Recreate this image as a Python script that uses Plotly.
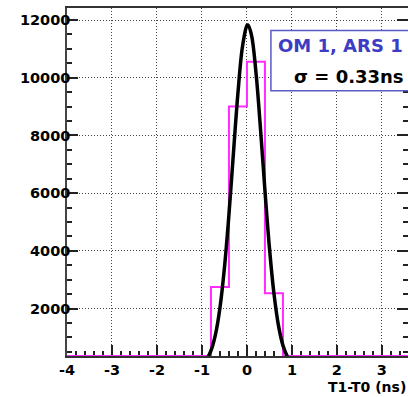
import numpy as np
import plotly.graph_objects as go

# ---- data ----
bin_edges = [-4.0, -3.6, -3.2, -2.8, -2.4, -2.0, -1.6, -1.2, -0.8, -0.4, 0.0,
             0.4, 0.8, 1.2, 1.6, 2.0, 2.4, 2.8, 3.2, 3.6, 4.0]
bin_counts = [0, 0, 0, 0, 0, 0, 0, 0, 2750, 9000, 10550,
              2530, 0, 0, 0, 0, 0, 0, 0, 0]

fit_x = [-1.0, -0.9, -0.8, -0.7, -0.6, -0.5, -0.4, -0.3, -0.2, -0.1, 0.0, 0.02,
         0.1, 0.2, 0.3, 0.4, 0.5, 0.6, 0.7, 0.8, 0.9, 1.0]
fit_y = [120, 243, 540, 1096, 2025, 3419, 5263, 7394, 9472, 11073, 11809, 11830,
         11487, 10195, 8254, 6096, 4107, 2525, 1416, 724, 338, 144]

x_tickvals = [-4, -3, -2, -1, 0, 1, 2, 3]
x_ticktext = ["-4", "-3", "-2", "-1", "0", "1", "2", "3"]
y_tickvals = [2000, 4000, 6000, 8000, 10000, 12000]
y_ticktext = ["2000", "4000", "6000", "8000", "10000", "12000"]

label_line1 = "OM 1, ARS 1"
label_line2 = "σ = 0.33ns"
x_title = "T1-T0 (ns)"

X_RANGE = [-4, 3.58]
Y_RANGE = [356, 12416]

FONT = "DejaVu Sans"

# histogram drawn as steps; empty bins sit on the frame like in ROOT
step_y = list(np.maximum(np.array(bin_counts, dtype=float), Y_RANGE[0]))
step_y = step_y + [step_y[-1]]

fig = go.Figure()
fig.add_trace(go.Scatter(x=bin_edges, y=step_y, mode="lines", line_shape="hv",
                         line=dict(color="#ff2cff", width=2),
                         hoverinfo="skip", showlegend=False))
fig.add_trace(go.Scatter(x=fit_x, y=fit_y, mode="lines", line_shape="spline",
                         line=dict(color="black", width=3.5),
                         hoverinfo="skip", showlegend=False))
# invisible trace to activate the right-hand tick axis
fig.add_trace(go.Scatter(x=[X_RANGE[0]], y=[Y_RANGE[0]], yaxis="y2", mode="markers",
                         marker=dict(opacity=0), hoverinfo="skip", showlegend=False))

tick_font = dict(family=FONT, size=14.5, color="black", weight="bold")
GRID_DASH = "1px,2px"

fig.update_layout(
    width=408, height=397,
    margin=dict(l=67, r=0, t=8, b=41),
    paper_bgcolor="white", plot_bgcolor="white",
    xaxis=dict(range=X_RANGE, tickmode="array", tickvals=x_tickvals, ticktext=x_ticktext,
               ticks="inside", ticklen=11, tickwidth=1.5, tickcolor="#222",
               showline=True, linecolor="#333", linewidth=1.5, mirror=True,
               showgrid=True, gridcolor="#444", griddash=GRID_DASH, gridwidth=1,
               zeroline=False, tickfont=tick_font, layer="below traces",
               minor=dict(tick0=0, dtick=0.2, ticks="inside", ticklen=5,
                          tickwidth=1.5, tickcolor="#222", showgrid=False)),
    yaxis=dict(range=Y_RANGE, tickmode="array", tickvals=y_tickvals, ticktext=y_ticktext,
               ticks="inside", ticklen=11, tickwidth=1.5, tickcolor="#222",
               showline=True, linecolor="#444", linewidth=1.5,
               showgrid=True, gridcolor="#444", griddash=GRID_DASH, gridwidth=1,
               zeroline=False, tickfont=tick_font, ticklabelstandoff=-8,
               minor=dict(tick0=0, dtick=500, ticks="inside", ticklen=5,
                          tickwidth=1.5, tickcolor="#222", showgrid=False)),
    yaxis2=dict(range=Y_RANGE, overlaying="y", side="right", anchor="x",
                tickmode="array", tickvals=y_tickvals, showticklabels=False,
                ticks="inside", ticklen=11, tickwidth=1.5, tickcolor="#222",
                showline=False, showgrid=False, zeroline=False,
                minor=dict(tick0=0, dtick=500, ticks="inside", ticklen=5,
                           tickwidth=1.5, tickcolor="#222", showgrid=False)),
)

# stats-like label box
fig.add_shape(type="rect", xref="paper", yref="paper",
              x0=0.598, x1=1.03, y0=0.762, y1=0.935,
              line=dict(color="#5a5ac8", width=1.5), fillcolor="white", layer="above")
fig.add_annotation(xref="paper", yref="paper", x=0.802, y=0.891,
                   xanchor="center", yanchor="middle", showarrow=False,
                   text=label_line1,
                   font=dict(family=FONT, size=18, color="#3c3cc4", weight="bold"))
fig.add_annotation(xref="paper", yref="paper", x=0.993, y=0.803,
                   xanchor="right", yanchor="middle", showarrow=False,
                   text=label_line2,
                   font=dict(family=FONT, size=18, color="black", weight="bold"))
fig.add_annotation(xref="paper", yref="paper", x=1.0, y=-0.09,
                   xanchor="right", yanchor="middle", showarrow=False,
                   text=x_title,
                   font=dict(family=FONT, size=14, color="black", weight="bold"))

fig.write_html("out.html", config={"displayModeBar": False},
               post_script="document.body.style.margin='0';document.body.style.overflow='hidden';")
